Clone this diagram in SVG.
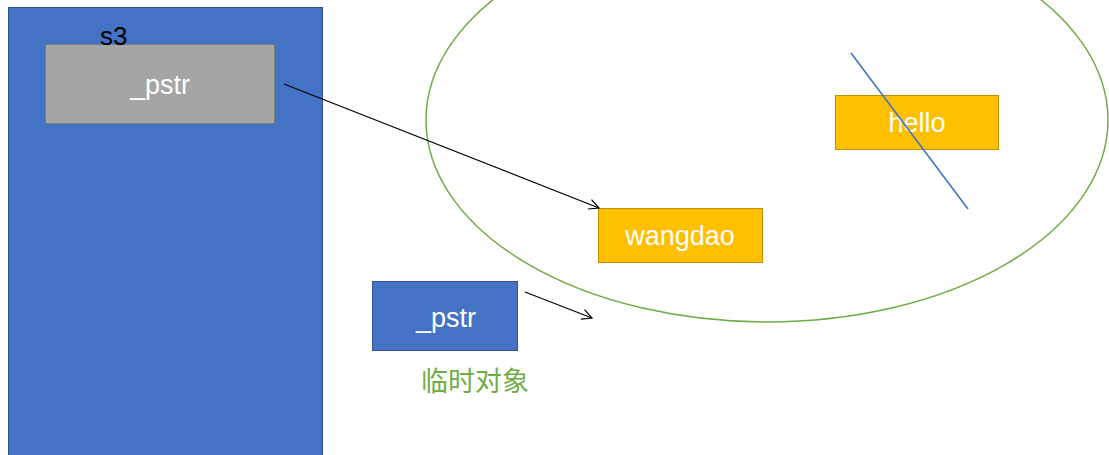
<svg xmlns="http://www.w3.org/2000/svg" width="1109" height="455" viewBox="0 0 1109 455">
<style>
.lbl{font-family:"Liberation Sans",Arial,sans-serif;font-size:27px;fill:#ffffff;text-anchor:middle}
.yel{fill:#FFC000;stroke:#BF9000;stroke-width:1}
.conn{stroke:#000;stroke-width:1.2;fill:none;marker-end:url(#arr)}
</style>
<defs>
<marker id="arr" viewBox="0 0 12 12" refX="11" refY="6" markerWidth="12" markerHeight="12" markerUnits="userSpaceOnUse" orient="auto">
<path d="M1,1 L11,6 L1,11" fill="none" stroke="#000" stroke-width="1.2"/>
</marker>
</defs>
<rect width="1109" height="455" fill="#ffffff"/>
<g id="s3">
<rect x="8.5" y="7.5" width="314" height="455" fill="#4472C4" stroke="#2F528F" stroke-width="1"/>
</g>
<g id="pstr1">
<rect x="45.5" y="44.5" width="229" height="79" fill="#A5A5A5" stroke="#7F7F7F" stroke-width="1"/>
<text class="lbl" x="160" y="94">_pstr</text>
</g>
<text x="100" y="45" font-family="Liberation Sans,Arial,sans-serif" font-size="26" fill="#000">s3</text>
<g id="heap">
<ellipse cx="767" cy="120" rx="341" ry="202" fill="none" stroke="#70AD47" stroke-width="1.5"/>
</g>
<g id="hello">
<rect class="yel" x="835.5" y="95.5" width="163" height="54"/>
<text class="lbl" x="917" y="132">hello</text>
</g>
<g id="wangdao">
<rect class="yel" x="598.5" y="208.5" width="164" height="54"/>
<text class="lbl" x="680" y="245">wangdao</text>
</g>
<g id="pstr2">
<rect x="372.5" y="281.5" width="145" height="69" fill="#4472C4" stroke="#2F528F" stroke-width="1"/>
<text class="lbl" x="446" y="327">_pstr</text>
<text x="475" y="391" font-family="'Noto Sans CJK SC',sans-serif" font-size="27" fill="#70AD47" text-anchor="middle">临时对象</text>
</g>
<g id="connectors">
<line class="conn" x1="284" y1="84" x2="599" y2="208"/>
<line class="conn" x1="525" y1="292" x2="592" y2="318"/>
<line x1="851" y1="53" x2="968" y2="209" stroke="#4472C4" stroke-width="1.5"/>
</g>
</svg>
